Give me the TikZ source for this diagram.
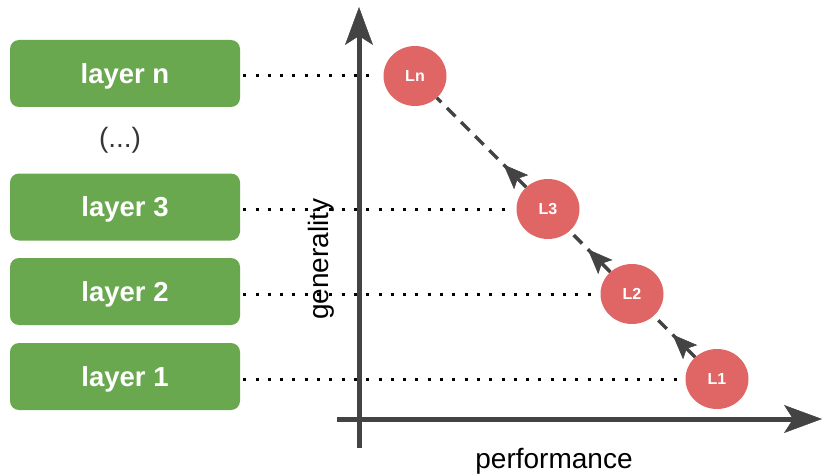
\documentclass[tikz,border=0pt]{standalone}
\usepackage{fontspec}
\setmainfont{Liberation Sans}
\usetikzlibrary{shapes.geometric,arrows.meta,decorations.markings}
\definecolor{boxgreen}{HTML}{6AA84F}
\definecolor{circred}{HTML}{E06666}
\definecolor{axisgray}{HTML}{434343}
\begin{document}
\begin{tikzpicture}[x=1pt,y=-1pt,
 layerbox/.style={draw=none, fill=boxgreen, rounded corners=9pt, minimum width=230pt, minimum height=67pt, inner sep=0pt, text depth=0pt, text=white, font=\fontsize{27.5}{30}\selectfont\bfseries},
 lnode/.style={ellipse, fill=circred, minimum width=63pt, minimum height=60pt, inner sep=0pt, text=white, font=\fontsize{16}{18}\selectfont\bfseries},
 axisline/.style={draw=axisgray, line width=5pt, -{Stealth[length=38pt,width=28pt,inset=9pt,line width=0.5pt]}},
 dotline/.style={draw=black, line width=3pt, dash pattern=on 3pt off 9.3pt, shorten <=3pt, shorten >=6pt},
 dashline/.style={draw=axisgray, line width=3.5pt, dash pattern=on 12pt off 8pt, postaction={decorate},
   decoration={markings, mark=at position 32pt with {\arrow{Stealth[length=25pt,width=20pt,inset=5pt,line width=0.5pt]}}}},
 lbl/.style={font=\fontsize{28}{32}\selectfont, text=black}]
\useasboundingbox (0,0) rectangle (827,476);

\node[layerbox] (layn) at (125,73.5) {layer n};
\node[layerbox] (lay3) at (125,207) {layer 3};
\node[layerbox] (lay2) at (125,291.5) {layer 2};
\node[layerbox] (lay1) at (125,376.5) {layer 1};
\node[lbl, text=axisgray!80!black] (dots) at (120,140) {(...)};

\node[lnode] (Ln) at (415,76) {Ln};
\node[lnode] (L3) at (548,209) {L3};
\node[lnode] (L2) at (632,294) {L2};
\node[lnode] (L1) at (717,379) {L1};

\draw[dotline] (layn.east |- Ln) -- (Ln.west);
\draw[dotline] (lay3.east |- L3) -- (L3.west);
\draw[dotline] (lay2.east |- L2) -- (L2.west);
\draw[dotline] (lay1.east |- L1) -- (L1.west);

\coordinate (ybot) at (359,448);
\coordinate (ytop) at (359,7);
\coordinate (xleft) at (337,419);
\coordinate (xright) at (822,419);
\draw[axisline] (ybot) -- (ytop);
\draw[axisline] (xleft) -- (xright);

\node[lbl, rotate=90] (gen) at (321,259) {generality};
\node[lbl] (perf) at (554,461) {performance};

\draw[dashline] (L1) -- (L2);
\draw[dashline] (L2) -- (L3);
\draw[dashline] (L3) -- (Ln);
\end{tikzpicture}
\end{document}
